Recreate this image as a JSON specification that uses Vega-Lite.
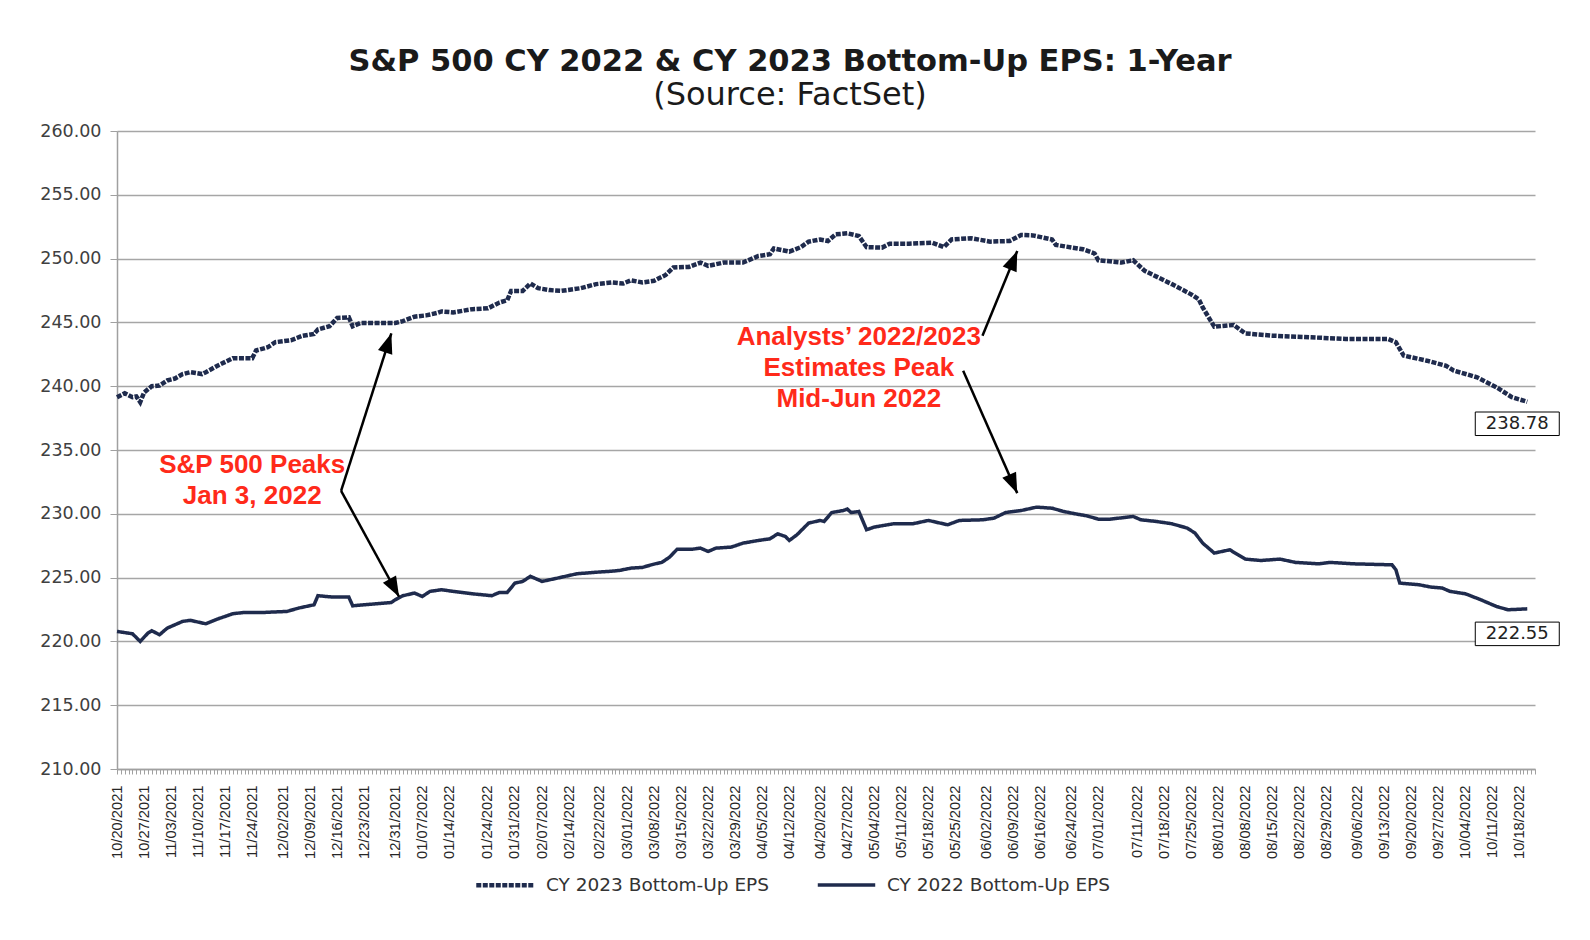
{
  "$schema": "https://vega.github.io/schema/vega-lite/v6.json",
  "width": 1418,
  "height": 638,
  "autosize": {"type": "none"},
  "padding": {"left": 117, "top": 131, "right": 55, "bottom": 171},
  "background": "white",
  "title": {
    "text": "S&P 500 CY 2022 & CY 2023 Bottom-Up  EPS: 1-Year",
    "subtitle": "(Source: FactSet)",
    "anchor": "middle",
    "dx": -36,
    "offset": 11,
    "font": "DejaVu Sans",
    "fontSize": 30.5,
    "fontWeight": "bold",
    "color": "#1a1a1a",
    "subtitleFont": "DejaVu Sans",
    "subtitleFontSize": 32,
    "subtitleColor": "#1a1a1a",
    "subtitlePadding": 3
  },
  "config": {
    "view": {"stroke": null},
    "font": "DejaVu Sans"
  },
  "datasets": {
    "eps": [
      {"series": "CY 2023 Bottom-Up EPS", "date": "2021-10-20", "value": 239.14},
      {"series": "CY 2023 Bottom-Up EPS", "date": "2021-10-22", "value": 239.45},
      {"series": "CY 2023 Bottom-Up EPS", "date": "2021-10-24", "value": 239.14},
      {"series": "CY 2023 Bottom-Up EPS", "date": "2021-10-25", "value": 239.2},
      {"series": "CY 2023 Bottom-Up EPS", "date": "2021-10-26", "value": 238.75},
      {"series": "CY 2023 Bottom-Up EPS", "date": "2021-10-27", "value": 239.5},
      {"series": "CY 2023 Bottom-Up EPS", "date": "2021-10-29", "value": 240.0},
      {"series": "CY 2023 Bottom-Up EPS", "date": "2021-10-31", "value": 240.05},
      {"series": "CY 2023 Bottom-Up EPS", "date": "2021-11-02", "value": 240.45},
      {"series": "CY 2023 Bottom-Up EPS", "date": "2021-11-04", "value": 240.6},
      {"series": "CY 2023 Bottom-Up EPS", "date": "2021-11-06", "value": 240.95},
      {"series": "CY 2023 Bottom-Up EPS", "date": "2021-11-08", "value": 241.1},
      {"series": "CY 2023 Bottom-Up EPS", "date": "2021-11-11", "value": 240.95},
      {"series": "CY 2023 Bottom-Up EPS", "date": "2021-11-12", "value": 241.1},
      {"series": "CY 2023 Bottom-Up EPS", "date": "2021-11-15", "value": 241.6},
      {"series": "CY 2023 Bottom-Up EPS", "date": "2021-11-19", "value": 242.2},
      {"series": "CY 2023 Bottom-Up EPS", "date": "2021-11-24", "value": 242.2},
      {"series": "CY 2023 Bottom-Up EPS", "date": "2021-11-25", "value": 242.8},
      {"series": "CY 2023 Bottom-Up EPS", "date": "2021-11-28", "value": 243.05},
      {"series": "CY 2023 Bottom-Up EPS", "date": "2021-11-30", "value": 243.45},
      {"series": "CY 2023 Bottom-Up EPS", "date": "2021-12-04", "value": 243.6},
      {"series": "CY 2023 Bottom-Up EPS", "date": "2021-12-07", "value": 243.95},
      {"series": "CY 2023 Bottom-Up EPS", "date": "2021-12-10", "value": 244.1},
      {"series": "CY 2023 Bottom-Up EPS", "date": "2021-12-11", "value": 244.45},
      {"series": "CY 2023 Bottom-Up EPS", "date": "2021-12-14", "value": 244.7},
      {"series": "CY 2023 Bottom-Up EPS", "date": "2021-12-16", "value": 245.35},
      {"series": "CY 2023 Bottom-Up EPS", "date": "2021-12-19", "value": 245.4},
      {"series": "CY 2023 Bottom-Up EPS", "date": "2021-12-20", "value": 244.7},
      {"series": "CY 2023 Bottom-Up EPS", "date": "2021-12-22", "value": 244.95},
      {"series": "CY 2023 Bottom-Up EPS", "date": "2021-12-31", "value": 244.95},
      {"series": "CY 2023 Bottom-Up EPS", "date": "2022-01-02", "value": 245.1},
      {"series": "CY 2023 Bottom-Up EPS", "date": "2022-01-05", "value": 245.45},
      {"series": "CY 2023 Bottom-Up EPS", "date": "2022-01-08", "value": 245.55},
      {"series": "CY 2023 Bottom-Up EPS", "date": "2022-01-11", "value": 245.75},
      {"series": "CY 2023 Bottom-Up EPS", "date": "2022-01-12", "value": 245.86},
      {"series": "CY 2023 Bottom-Up EPS", "date": "2022-01-15", "value": 245.78},
      {"series": "CY 2023 Bottom-Up EPS", "date": "2022-01-20", "value": 246.04},
      {"series": "CY 2023 Bottom-Up EPS", "date": "2022-01-24", "value": 246.1},
      {"series": "CY 2023 Bottom-Up EPS", "date": "2022-01-27", "value": 246.56},
      {"series": "CY 2023 Bottom-Up EPS", "date": "2022-01-29", "value": 246.74},
      {"series": "CY 2023 Bottom-Up EPS", "date": "2022-01-30", "value": 247.47},
      {"series": "CY 2023 Bottom-Up EPS", "date": "2022-02-02", "value": 247.47},
      {"series": "CY 2023 Bottom-Up EPS", "date": "2022-02-04", "value": 248.05},
      {"series": "CY 2023 Bottom-Up EPS", "date": "2022-02-06", "value": 247.68},
      {"series": "CY 2023 Bottom-Up EPS", "date": "2022-02-09", "value": 247.53},
      {"series": "CY 2023 Bottom-Up EPS", "date": "2022-02-12", "value": 247.47},
      {"series": "CY 2023 Bottom-Up EPS", "date": "2022-02-17", "value": 247.68},
      {"series": "CY 2023 Bottom-Up EPS", "date": "2022-02-21", "value": 248.0},
      {"series": "CY 2023 Bottom-Up EPS", "date": "2022-02-25", "value": 248.13},
      {"series": "CY 2023 Bottom-Up EPS", "date": "2022-02-28", "value": 248.05},
      {"series": "CY 2023 Bottom-Up EPS", "date": "2022-03-02", "value": 248.3},
      {"series": "CY 2023 Bottom-Up EPS", "date": "2022-03-05", "value": 248.13},
      {"series": "CY 2023 Bottom-Up EPS", "date": "2022-03-08", "value": 248.26},
      {"series": "CY 2023 Bottom-Up EPS", "date": "2022-03-11", "value": 248.72},
      {"series": "CY 2023 Bottom-Up EPS", "date": "2022-03-13", "value": 249.3},
      {"series": "CY 2023 Bottom-Up EPS", "date": "2022-03-17", "value": 249.35},
      {"series": "CY 2023 Bottom-Up EPS", "date": "2022-03-20", "value": 249.69},
      {"series": "CY 2023 Bottom-Up EPS", "date": "2022-03-22", "value": 249.43},
      {"series": "CY 2023 Bottom-Up EPS", "date": "2022-03-26", "value": 249.69},
      {"series": "CY 2023 Bottom-Up EPS", "date": "2022-03-31", "value": 249.69},
      {"series": "CY 2023 Bottom-Up EPS", "date": "2022-04-04", "value": 250.2},
      {"series": "CY 2023 Bottom-Up EPS", "date": "2022-04-07", "value": 250.34},
      {"series": "CY 2023 Bottom-Up EPS", "date": "2022-04-08", "value": 250.8},
      {"series": "CY 2023 Bottom-Up EPS", "date": "2022-04-12", "value": 250.55},
      {"series": "CY 2023 Bottom-Up EPS", "date": "2022-04-15", "value": 250.9},
      {"series": "CY 2023 Bottom-Up EPS", "date": "2022-04-17", "value": 251.33},
      {"series": "CY 2023 Bottom-Up EPS", "date": "2022-04-20", "value": 251.5},
      {"series": "CY 2023 Bottom-Up EPS", "date": "2022-04-22", "value": 251.38},
      {"series": "CY 2023 Bottom-Up EPS", "date": "2022-04-24", "value": 251.9},
      {"series": "CY 2023 Bottom-Up EPS", "date": "2022-04-27", "value": 251.98},
      {"series": "CY 2023 Bottom-Up EPS", "date": "2022-04-30", "value": 251.77},
      {"series": "CY 2023 Bottom-Up EPS", "date": "2022-05-02", "value": 250.9},
      {"series": "CY 2023 Bottom-Up EPS", "date": "2022-05-06", "value": 250.86},
      {"series": "CY 2023 Bottom-Up EPS", "date": "2022-05-08", "value": 251.17},
      {"series": "CY 2023 Bottom-Up EPS", "date": "2022-05-13", "value": 251.17},
      {"series": "CY 2023 Bottom-Up EPS", "date": "2022-05-19", "value": 251.25},
      {"series": "CY 2023 Bottom-Up EPS", "date": "2022-05-22", "value": 250.9},
      {"series": "CY 2023 Bottom-Up EPS", "date": "2022-05-24", "value": 251.5},
      {"series": "CY 2023 Bottom-Up EPS", "date": "2022-05-29", "value": 251.6},
      {"series": "CY 2023 Bottom-Up EPS", "date": "2022-06-03", "value": 251.33},
      {"series": "CY 2023 Bottom-Up EPS", "date": "2022-06-08", "value": 251.38},
      {"series": "CY 2023 Bottom-Up EPS", "date": "2022-06-11", "value": 251.85},
      {"series": "CY 2023 Bottom-Up EPS", "date": "2022-06-14", "value": 251.82},
      {"series": "CY 2023 Bottom-Up EPS", "date": "2022-06-19", "value": 251.5},
      {"series": "CY 2023 Bottom-Up EPS", "date": "2022-06-20", "value": 251.07},
      {"series": "CY 2023 Bottom-Up EPS", "date": "2022-06-27", "value": 250.73},
      {"series": "CY 2023 Bottom-Up EPS", "date": "2022-06-30", "value": 250.4},
      {"series": "CY 2023 Bottom-Up EPS", "date": "2022-07-01", "value": 249.87},
      {"series": "CY 2023 Bottom-Up EPS", "date": "2022-07-07", "value": 249.69},
      {"series": "CY 2023 Bottom-Up EPS", "date": "2022-07-10", "value": 249.87},
      {"series": "CY 2023 Bottom-Up EPS", "date": "2022-07-13", "value": 249.04},
      {"series": "CY 2023 Bottom-Up EPS", "date": "2022-07-20", "value": 248.0},
      {"series": "CY 2023 Bottom-Up EPS", "date": "2022-07-25", "value": 247.2},
      {"series": "CY 2023 Bottom-Up EPS", "date": "2022-07-27", "value": 246.8},
      {"series": "CY 2023 Bottom-Up EPS", "date": "2022-07-28", "value": 246.17},
      {"series": "CY 2023 Bottom-Up EPS", "date": "2022-07-31", "value": 244.66},
      {"series": "CY 2023 Bottom-Up EPS", "date": "2022-08-05", "value": 244.8},
      {"series": "CY 2023 Bottom-Up EPS", "date": "2022-08-08", "value": 244.14},
      {"series": "CY 2023 Bottom-Up EPS", "date": "2022-08-15", "value": 243.96},
      {"series": "CY 2023 Bottom-Up EPS", "date": "2022-08-25", "value": 243.83},
      {"series": "CY 2023 Bottom-Up EPS", "date": "2022-09-03", "value": 243.7},
      {"series": "CY 2023 Bottom-Up EPS", "date": "2022-09-14", "value": 243.7},
      {"series": "CY 2023 Bottom-Up EPS", "date": "2022-09-16", "value": 243.44},
      {"series": "CY 2023 Bottom-Up EPS", "date": "2022-09-18", "value": 242.4},
      {"series": "CY 2023 Bottom-Up EPS", "date": "2022-09-24", "value": 242.0},
      {"series": "CY 2023 Bottom-Up EPS", "date": "2022-09-29", "value": 241.6},
      {"series": "CY 2023 Bottom-Up EPS", "date": "2022-10-01", "value": 241.22},
      {"series": "CY 2023 Bottom-Up EPS", "date": "2022-10-07", "value": 240.7},
      {"series": "CY 2023 Bottom-Up EPS", "date": "2022-10-12", "value": 239.92},
      {"series": "CY 2023 Bottom-Up EPS", "date": "2022-10-16", "value": 239.14},
      {"series": "CY 2023 Bottom-Up EPS", "date": "2022-10-20", "value": 238.78},
      {"series": "CY 2022 Bottom-Up EPS", "date": "2021-10-20", "value": 220.78},
      {"series": "CY 2022 Bottom-Up EPS", "date": "2021-10-24", "value": 220.6},
      {"series": "CY 2022 Bottom-Up EPS", "date": "2021-10-26", "value": 220.0},
      {"series": "CY 2022 Bottom-Up EPS", "date": "2021-10-28", "value": 220.65},
      {"series": "CY 2022 Bottom-Up EPS", "date": "2021-10-29", "value": 220.84},
      {"series": "CY 2022 Bottom-Up EPS", "date": "2021-10-31", "value": 220.52},
      {"series": "CY 2022 Bottom-Up EPS", "date": "2021-11-02", "value": 221.04},
      {"series": "CY 2022 Bottom-Up EPS", "date": "2021-11-06", "value": 221.57},
      {"series": "CY 2022 Bottom-Up EPS", "date": "2021-11-08", "value": 221.65},
      {"series": "CY 2022 Bottom-Up EPS", "date": "2021-11-12", "value": 221.38},
      {"series": "CY 2022 Bottom-Up EPS", "date": "2021-11-15", "value": 221.75},
      {"series": "CY 2022 Bottom-Up EPS", "date": "2021-11-19", "value": 222.17},
      {"series": "CY 2022 Bottom-Up EPS", "date": "2021-11-22", "value": 222.27},
      {"series": "CY 2022 Bottom-Up EPS", "date": "2021-11-27", "value": 222.27},
      {"series": "CY 2022 Bottom-Up EPS", "date": "2021-12-03", "value": 222.35},
      {"series": "CY 2022 Bottom-Up EPS", "date": "2021-12-06", "value": 222.61},
      {"series": "CY 2022 Bottom-Up EPS", "date": "2021-12-10", "value": 222.87},
      {"series": "CY 2022 Bottom-Up EPS", "date": "2021-12-11", "value": 223.58},
      {"series": "CY 2022 Bottom-Up EPS", "date": "2021-12-15", "value": 223.47},
      {"series": "CY 2022 Bottom-Up EPS", "date": "2021-12-19", "value": 223.47},
      {"series": "CY 2022 Bottom-Up EPS", "date": "2021-12-20", "value": 222.79},
      {"series": "CY 2022 Bottom-Up EPS", "date": "2021-12-23", "value": 222.87},
      {"series": "CY 2022 Bottom-Up EPS", "date": "2021-12-30", "value": 223.05},
      {"series": "CY 2022 Bottom-Up EPS", "date": "2021-12-31", "value": 223.26},
      {"series": "CY 2022 Bottom-Up EPS", "date": "2022-01-02", "value": 223.58},
      {"series": "CY 2022 Bottom-Up EPS", "date": "2022-01-05", "value": 223.79},
      {"series": "CY 2022 Bottom-Up EPS", "date": "2022-01-07", "value": 223.52},
      {"series": "CY 2022 Bottom-Up EPS", "date": "2022-01-09", "value": 223.92},
      {"series": "CY 2022 Bottom-Up EPS", "date": "2022-01-12", "value": 224.05},
      {"series": "CY 2022 Bottom-Up EPS", "date": "2022-01-15", "value": 223.92},
      {"series": "CY 2022 Bottom-Up EPS", "date": "2022-01-20", "value": 223.73},
      {"series": "CY 2022 Bottom-Up EPS", "date": "2022-01-25", "value": 223.58},
      {"series": "CY 2022 Bottom-Up EPS", "date": "2022-01-27", "value": 223.84},
      {"series": "CY 2022 Bottom-Up EPS", "date": "2022-01-29", "value": 223.84},
      {"series": "CY 2022 Bottom-Up EPS", "date": "2022-01-31", "value": 224.57},
      {"series": "CY 2022 Bottom-Up EPS", "date": "2022-02-02", "value": 224.7},
      {"series": "CY 2022 Bottom-Up EPS", "date": "2022-02-04", "value": 225.1},
      {"series": "CY 2022 Bottom-Up EPS", "date": "2022-02-07", "value": 224.7},
      {"series": "CY 2022 Bottom-Up EPS", "date": "2022-02-11", "value": 224.96},
      {"series": "CY 2022 Bottom-Up EPS", "date": "2022-02-16", "value": 225.3},
      {"series": "CY 2022 Bottom-Up EPS", "date": "2022-02-21", "value": 225.42},
      {"series": "CY 2022 Bottom-Up EPS", "date": "2022-02-25", "value": 225.5},
      {"series": "CY 2022 Bottom-Up EPS", "date": "2022-02-27", "value": 225.56},
      {"series": "CY 2022 Bottom-Up EPS", "date": "2022-03-02", "value": 225.74},
      {"series": "CY 2022 Bottom-Up EPS", "date": "2022-03-05", "value": 225.8},
      {"series": "CY 2022 Bottom-Up EPS", "date": "2022-03-08", "value": 226.06},
      {"series": "CY 2022 Bottom-Up EPS", "date": "2022-03-10", "value": 226.19},
      {"series": "CY 2022 Bottom-Up EPS", "date": "2022-03-12", "value": 226.6},
      {"series": "CY 2022 Bottom-Up EPS", "date": "2022-03-14", "value": 227.23},
      {"series": "CY 2022 Bottom-Up EPS", "date": "2022-03-18", "value": 227.23},
      {"series": "CY 2022 Bottom-Up EPS", "date": "2022-03-20", "value": 227.31},
      {"series": "CY 2022 Bottom-Up EPS", "date": "2022-03-22", "value": 227.05},
      {"series": "CY 2022 Bottom-Up EPS", "date": "2022-03-24", "value": 227.31},
      {"series": "CY 2022 Bottom-Up EPS", "date": "2022-03-28", "value": 227.39},
      {"series": "CY 2022 Bottom-Up EPS", "date": "2022-03-31", "value": 227.7},
      {"series": "CY 2022 Bottom-Up EPS", "date": "2022-04-04", "value": 227.91},
      {"series": "CY 2022 Bottom-Up EPS", "date": "2022-04-07", "value": 228.04},
      {"series": "CY 2022 Bottom-Up EPS", "date": "2022-04-09", "value": 228.43},
      {"series": "CY 2022 Bottom-Up EPS", "date": "2022-04-11", "value": 228.22},
      {"series": "CY 2022 Bottom-Up EPS", "date": "2022-04-12", "value": 227.91},
      {"series": "CY 2022 Bottom-Up EPS", "date": "2022-04-14", "value": 228.36},
      {"series": "CY 2022 Bottom-Up EPS", "date": "2022-04-17", "value": 229.27},
      {"series": "CY 2022 Bottom-Up EPS", "date": "2022-04-20", "value": 229.48},
      {"series": "CY 2022 Bottom-Up EPS", "date": "2022-04-21", "value": 229.4},
      {"series": "CY 2022 Bottom-Up EPS", "date": "2022-04-23", "value": 230.1},
      {"series": "CY 2022 Bottom-Up EPS", "date": "2022-04-26", "value": 230.26},
      {"series": "CY 2022 Bottom-Up EPS", "date": "2022-04-27", "value": 230.37},
      {"series": "CY 2022 Bottom-Up EPS", "date": "2022-04-28", "value": 230.1},
      {"series": "CY 2022 Bottom-Up EPS", "date": "2022-04-30", "value": 230.18},
      {"series": "CY 2022 Bottom-Up EPS", "date": "2022-05-02", "value": 228.75},
      {"series": "CY 2022 Bottom-Up EPS", "date": "2022-05-04", "value": 228.96},
      {"series": "CY 2022 Bottom-Up EPS", "date": "2022-05-09", "value": 229.22},
      {"series": "CY 2022 Bottom-Up EPS", "date": "2022-05-14", "value": 229.22},
      {"series": "CY 2022 Bottom-Up EPS", "date": "2022-05-18", "value": 229.48},
      {"series": "CY 2022 Bottom-Up EPS", "date": "2022-05-23", "value": 229.14},
      {"series": "CY 2022 Bottom-Up EPS", "date": "2022-05-26", "value": 229.48},
      {"series": "CY 2022 Bottom-Up EPS", "date": "2022-06-01", "value": 229.53},
      {"series": "CY 2022 Bottom-Up EPS", "date": "2022-06-04", "value": 229.66},
      {"series": "CY 2022 Bottom-Up EPS", "date": "2022-06-07", "value": 230.1},
      {"series": "CY 2022 Bottom-Up EPS", "date": "2022-06-11", "value": 230.26},
      {"series": "CY 2022 Bottom-Up EPS", "date": "2022-06-15", "value": 230.52},
      {"series": "CY 2022 Bottom-Up EPS", "date": "2022-06-19", "value": 230.44},
      {"series": "CY 2022 Bottom-Up EPS", "date": "2022-06-22", "value": 230.18},
      {"series": "CY 2022 Bottom-Up EPS", "date": "2022-06-25", "value": 230.0},
      {"series": "CY 2022 Bottom-Up EPS", "date": "2022-06-28", "value": 229.84},
      {"series": "CY 2022 Bottom-Up EPS", "date": "2022-07-01", "value": 229.58},
      {"series": "CY 2022 Bottom-Up EPS", "date": "2022-07-04", "value": 229.58},
      {"series": "CY 2022 Bottom-Up EPS", "date": "2022-07-10", "value": 229.79},
      {"series": "CY 2022 Bottom-Up EPS", "date": "2022-07-12", "value": 229.53},
      {"series": "CY 2022 Bottom-Up EPS", "date": "2022-07-16", "value": 229.4},
      {"series": "CY 2022 Bottom-Up EPS", "date": "2022-07-20", "value": 229.22},
      {"series": "CY 2022 Bottom-Up EPS", "date": "2022-07-24", "value": 228.88},
      {"series": "CY 2022 Bottom-Up EPS", "date": "2022-07-26", "value": 228.49},
      {"series": "CY 2022 Bottom-Up EPS", "date": "2022-07-28", "value": 227.7},
      {"series": "CY 2022 Bottom-Up EPS", "date": "2022-07-31", "value": 226.92},
      {"series": "CY 2022 Bottom-Up EPS", "date": "2022-08-04", "value": 227.18},
      {"series": "CY 2022 Bottom-Up EPS", "date": "2022-08-08", "value": 226.45},
      {"series": "CY 2022 Bottom-Up EPS", "date": "2022-08-12", "value": 226.34},
      {"series": "CY 2022 Bottom-Up EPS", "date": "2022-08-17", "value": 226.45},
      {"series": "CY 2022 Bottom-Up EPS", "date": "2022-08-21", "value": 226.19},
      {"series": "CY 2022 Bottom-Up EPS", "date": "2022-08-27", "value": 226.08},
      {"series": "CY 2022 Bottom-Up EPS", "date": "2022-08-30", "value": 226.19},
      {"series": "CY 2022 Bottom-Up EPS", "date": "2022-09-05", "value": 226.08},
      {"series": "CY 2022 Bottom-Up EPS", "date": "2022-09-15", "value": 226.0},
      {"series": "CY 2022 Bottom-Up EPS", "date": "2022-09-16", "value": 225.61},
      {"series": "CY 2022 Bottom-Up EPS", "date": "2022-09-17", "value": 224.57},
      {"series": "CY 2022 Bottom-Up EPS", "date": "2022-09-22", "value": 224.44},
      {"series": "CY 2022 Bottom-Up EPS", "date": "2022-09-25", "value": 224.26},
      {"series": "CY 2022 Bottom-Up EPS", "date": "2022-09-28", "value": 224.18},
      {"series": "CY 2022 Bottom-Up EPS", "date": "2022-09-30", "value": 223.92},
      {"series": "CY 2022 Bottom-Up EPS", "date": "2022-10-04", "value": 223.73},
      {"series": "CY 2022 Bottom-Up EPS", "date": "2022-10-08", "value": 223.26},
      {"series": "CY 2022 Bottom-Up EPS", "date": "2022-10-12", "value": 222.74},
      {"series": "CY 2022 Bottom-Up EPS", "date": "2022-10-15", "value": 222.48},
      {"series": "CY 2022 Bottom-Up EPS", "date": "2022-10-20", "value": 222.55}
    ],
    "arrows": [
      {"id": 1, "date": "2021-12-30", "value": 244.14, "date2": "2021-12-17", "value2": 231.8},
      {"id": 2, "date": "2022-01-01", "value": 223.5, "date2": "2021-12-17", "value2": 231.8},
      {"id": 3, "date": "2022-06-10", "value": 250.6, "date2": "2022-06-01", "value2": 243.96},
      {"id": 4, "date": "2022-06-10", "value": 231.62, "date2": "2022-05-27", "value2": 241.22}
    ],
    "notes": [
      {"date": "2021-11-24", "value": 233.8, "label": "S&P 500 Peaks\nJan 3, 2022"},
      {"date": "2022-04-30", "value": 243.86, "label": "Analysts’ 2022/2023\nEstimates Peak\nMid-Jun 2022"}
    ]
  },
  "encoding": {
    "x": {
      "field": "date",
      "type": "temporal",
      "title": null,
      "scale": {
        "type": "utc",
        "domain": [
          {"year": 2021, "month": 10, "date": 20, "utc": true},
          {"year": 2022, "month": 10, "date": 22, "utc": true}
        ]
      },
      "axis": {
        "tickCount": {"interval": "day", "step": 1},
        "labelExpr": "indexof(['10/20/2021','10/27/2021','11/03/2021','11/10/2021','11/17/2021','11/24/2021','12/02/2021','12/09/2021','12/16/2021','12/23/2021','12/31/2021','01/07/2022','01/14/2022','01/24/2022','01/31/2022','02/07/2022','02/14/2022','02/22/2022','03/01/2022','03/08/2022','03/15/2022','03/22/2022','03/29/2022','04/05/2022','04/12/2022','04/20/2022','04/27/2022','05/04/2022','05/11/2022','05/18/2022','05/25/2022','06/02/2022','06/09/2022','06/16/2022','06/24/2022','07/01/2022','07/11/2022','07/18/2022','07/25/2022','08/01/2022','08/08/2022','08/15/2022','08/22/2022','08/29/2022','09/06/2022','09/13/2022','09/20/2022','09/27/2022','10/04/2022','10/11/2022','10/18/2022'], utcFormat(datum.value, '%m/%d/%Y')) >= 0 ? utcFormat(datum.value, '%m/%d/%Y') : ''",
        "labelAngle": -90,
        "labelOverlap": false,
        "labelFlush": false,
        "labelBound": false,
        "labelFont": "Liberation Sans",
        "labelFontSize": 14.7,
        "labelColor": "#262626",
        "labelPadding": 11,
        "tickSize": 5,
        "tickColor": "#a0a0a0",
        "tickWidth": 1,
        "domainColor": "#a0a0a0",
        "domainWidth": 1.5,
        "grid": false
      }
    },
    "y": {
      "field": "value",
      "type": "quantitative",
      "title": null,
      "scale": {"domain": [210, 260], "nice": false, "zero": false},
      "axis": {
        "values": [210, 215, 220, 225, 230, 235, 240, 245, 250, 255, 260],
        "format": ".2f",
        "labelFont": "DejaVu Sans",
        "labelFontSize": 17.5,
        "labelColor": "#404040",
        "labelPadding": 9,
        "tickSize": 7,
        "tickColor": "#a0a0a0",
        "domainColor": "#a0a0a0",
        "domainWidth": 1.5,
        "grid": true,
        "gridColor": "#a6a6a6",
        "gridWidth": 1.3
      }
    }
  },
  "layer": [
    {
      "data": {"name": "eps"},
      "mark": {"type": "line", "color": "#1f2b4d"},
      "encoding": {
        "strokeDash": {
          "field": "series",
          "type": "nominal",
          "scale": {
            "domain": ["CY 2023 Bottom-Up EPS", "CY 2022 Bottom-Up EPS"],
            "range": [[5, 1.5], [1, 0]]
          },
          "legend": {
            "title": null,
            "orient": "none",
            "legendX": 357,
            "legendY": 723,
            "direction": "horizontal",
            "symbolType": "stroke",
            "symbolSize": 3300,
            "symbolStrokeWidth": 4,
            "symbolStrokeColor": "#1f2b4d",
            "labelFont": "DejaVu Sans",
            "labelFontSize": 18.5,
            "labelColor": "#333333",
            "labelLimit": 0,
            "labelOffset": 10,
            "columnPadding": 40
          }
        },
        "strokeWidth": {
          "field": "series",
          "type": "nominal",
          "scale": {
            "domain": ["CY 2023 Bottom-Up EPS", "CY 2022 Bottom-Up EPS"],
            "range": [4.5, 3.5]
          },
          "legend": null
        }
      }
    },
    {
      "data": {"name": "eps"},
      "transform": [
        {"filter": {"field": "date", "equal": {"year": 2022, "month": 10, "date": 20, "utc": true}}},
        {"filter": {"field": "series", "equal": "CY 2023 Bottom-Up EPS"}}
      ],
      "mark": {
        "type": "point",
        "shape": "M-1,-0.28H1V0.28H-1Z",
        "size": 7056,
        "filled": true,
        "fill": "white",
        "stroke": "black",
        "strokeWidth": 1,
        "opacity": 1,
        "xOffset": -10,
        "yOffset": 22
      }
    },
    {
      "data": {"name": "eps"},
      "transform": [
        {"filter": {"field": "date", "equal": {"year": 2022, "month": 10, "date": 20, "utc": true}}},
        {"filter": {"field": "series", "equal": "CY 2023 Bottom-Up EPS"}}
      ],
      "mark": {
        "type": "text",
        "font": "DejaVu Sans",
        "fontSize": 18,
        "color": "#222222",
        "align": "center",
        "baseline": "middle",
        "xOffset": -10,
        "yOffset": 22
      },
      "encoding": {"text": {"field": "value", "type": "quantitative", "format": ".2f"}}
    },
    {
      "data": {"name": "eps"},
      "transform": [
        {"filter": {"field": "date", "equal": {"year": 2022, "month": 10, "date": 20, "utc": true}}},
        {"filter": {"field": "series", "equal": "CY 2022 Bottom-Up EPS"}}
      ],
      "mark": {
        "type": "point",
        "shape": "M-1,-0.28H1V0.28H-1Z",
        "size": 7056,
        "filled": true,
        "fill": "white",
        "stroke": "black",
        "strokeWidth": 1,
        "opacity": 1,
        "xOffset": -10,
        "yOffset": 25
      }
    },
    {
      "data": {"name": "eps"},
      "transform": [
        {"filter": {"field": "date", "equal": {"year": 2022, "month": 10, "date": 20, "utc": true}}},
        {"filter": {"field": "series", "equal": "CY 2022 Bottom-Up EPS"}}
      ],
      "mark": {
        "type": "text",
        "font": "DejaVu Sans",
        "fontSize": 18,
        "color": "#222222",
        "align": "center",
        "baseline": "middle",
        "xOffset": -10,
        "yOffset": 25
      },
      "encoding": {"text": {"field": "value", "type": "quantitative", "format": ".2f"}}
    },
    {
      "data": {"name": "arrows"},
      "mark": {"type": "rule", "color": "black", "strokeWidth": 2.5},
      "encoding": {
        "x2": {"field": "date2"},
        "y2": {"field": "value2"}
      }
    },
    {
      "data": {"name": "arrows"},
      "transform": [{"filter": "datum.id == 1"}],
      "mark": {"type": "point", "shape": "M0,0L0.75,2L-0.75,2Z", "size": 400, "filled": true, "color": "black", "opacity": 1, "angle": 18}
    },
    {
      "data": {"name": "arrows"},
      "transform": [{"filter": "datum.id == 2"}],
      "mark": {"type": "point", "shape": "M0,0L0.75,2L-0.75,2Z", "size": 400, "filled": true, "color": "black", "opacity": 1, "angle": 151.4}
    },
    {
      "data": {"name": "arrows"},
      "transform": [{"filter": "datum.id == 3"}],
      "mark": {"type": "point", "shape": "M0,0L0.75,2L-0.75,2Z", "size": 400, "filled": true, "color": "black", "opacity": 1, "angle": 22.3}
    },
    {
      "data": {"name": "arrows"},
      "transform": [{"filter": "datum.id == 4"}],
      "mark": {"type": "point", "shape": "M0,0L0.75,2L-0.75,2Z", "size": 400, "filled": true, "color": "black", "opacity": 1, "angle": 156.2}
    },
    {
      "data": {"name": "notes"},
      "mark": {
        "type": "text",
        "font": "Liberation Sans",
        "fontSize": 26,
        "fontWeight": "bold",
        "color": "#ff2a1a",
        "align": "center",
        "baseline": "middle",
        "lineBreak": "\n",
        "lineHeight": 31
      },
      "encoding": {"text": {"field": "label", "type": "nominal"}}
    }
  ]
}
